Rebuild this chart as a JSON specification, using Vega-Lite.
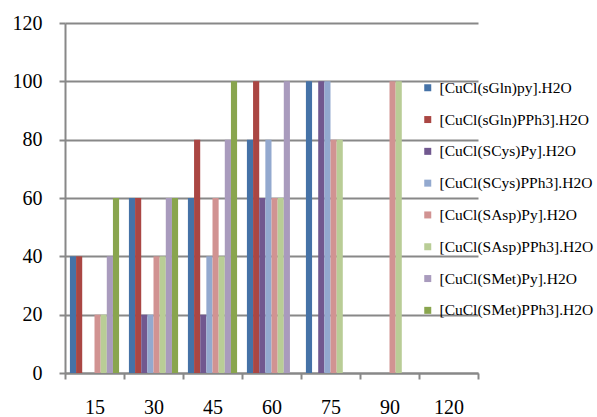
{
  "$schema": "https://vega.github.io/schema/vega-lite/v6.json",
  "width": 413,
  "height": 350,
  "autosize": "none",
  "padding": {"left": 65, "top": 23, "right": 119, "bottom": 44},
  "background": "white",
  "config": {"view": {"stroke": null}, "font": "Liberation Serif"},
  "data": {
    "values": [
      {"time": "15", "series": "[CuCl(sGln)py].H2O", "value": 40},
      {"time": "15", "series": "[CuCl(sGln)PPh3].H2O", "value": 40},
      {"time": "15", "series": "[CuCl(SAsp)Py].H2O", "value": 20},
      {"time": "15", "series": "[CuCl(SAsp)PPh3].H2O", "value": 20},
      {"time": "15", "series": "[CuCl(SMet)Py].H2O", "value": 40},
      {"time": "15", "series": "[CuCl(SMet)PPh3].H2O", "value": 60},
      {"time": "30", "series": "[CuCl(sGln)py].H2O", "value": 60},
      {"time": "30", "series": "[CuCl(sGln)PPh3].H2O", "value": 60},
      {"time": "30", "series": "[CuCl(SCys)Py].H2O", "value": 20},
      {"time": "30", "series": "[CuCl(SCys)PPh3].H2O", "value": 20},
      {"time": "30", "series": "[CuCl(SAsp)Py].H2O", "value": 40},
      {"time": "30", "series": "[CuCl(SAsp)PPh3].H2O", "value": 40},
      {"time": "30", "series": "[CuCl(SMet)Py].H2O", "value": 60},
      {"time": "30", "series": "[CuCl(SMet)PPh3].H2O", "value": 60},
      {"time": "45", "series": "[CuCl(sGln)py].H2O", "value": 60},
      {"time": "45", "series": "[CuCl(sGln)PPh3].H2O", "value": 80},
      {"time": "45", "series": "[CuCl(SCys)Py].H2O", "value": 20},
      {"time": "45", "series": "[CuCl(SCys)PPh3].H2O", "value": 40},
      {"time": "45", "series": "[CuCl(SAsp)Py].H2O", "value": 60},
      {"time": "45", "series": "[CuCl(SAsp)PPh3].H2O", "value": 40},
      {"time": "45", "series": "[CuCl(SMet)Py].H2O", "value": 80},
      {"time": "45", "series": "[CuCl(SMet)PPh3].H2O", "value": 100},
      {"time": "60", "series": "[CuCl(sGln)py].H2O", "value": 80},
      {"time": "60", "series": "[CuCl(sGln)PPh3].H2O", "value": 100},
      {"time": "60", "series": "[CuCl(SCys)Py].H2O", "value": 60},
      {"time": "60", "series": "[CuCl(SCys)PPh3].H2O", "value": 80},
      {"time": "60", "series": "[CuCl(SAsp)Py].H2O", "value": 60},
      {"time": "60", "series": "[CuCl(SAsp)PPh3].H2O", "value": 60},
      {"time": "60", "series": "[CuCl(SMet)Py].H2O", "value": 100},
      {"time": "75", "series": "[CuCl(sGln)py].H2O", "value": 100},
      {"time": "75", "series": "[CuCl(SCys)Py].H2O", "value": 100},
      {"time": "75", "series": "[CuCl(SCys)PPh3].H2O", "value": 100},
      {"time": "75", "series": "[CuCl(SAsp)Py].H2O", "value": 80},
      {"time": "75", "series": "[CuCl(SAsp)PPh3].H2O", "value": 80},
      {"time": "90", "series": "[CuCl(SAsp)Py].H2O", "value": 100},
      {"time": "90", "series": "[CuCl(SAsp)PPh3].H2O", "value": 100}
    ]
  },
  "mark": {"type": "bar"},
  "encoding": {
    "x": {
      "field": "time",
      "type": "ordinal",
      "scale": {"domain": ["15", "30", "45", "60", "75", "90", "120"], "paddingInner": 0, "paddingOuter": 0},
      "axis": {
        "title": null,
        "labelAngle": 0,
        "tickBand": "extent",
        "domainColor": "#888888",
        "domainWidth": 2,
        "tickColor": "#888888",
        "tickWidth": 2,
        "tickSize": 6,
        "labelFont": "Liberation Serif",
        "labelFontSize": 20,
        "labelColor": "black",
        "labelPadding": 18,
        "grid": false
      }
    },
    "xOffset": {
      "field": "series",
      "type": "nominal",
      "scale": {
        "domain": ["[CuCl(sGln)py].H2O", "[CuCl(sGln)PPh3].H2O", "[CuCl(SCys)Py].H2O", "[CuCl(SCys)PPh3].H2O", "[CuCl(SAsp)Py].H2O", "[CuCl(SAsp)PPh3].H2O", "[CuCl(SMet)Py].H2O", "[CuCl(SMet)PPh3].H2O"],
        "paddingInner": 0,
        "paddingOuter": 0.8
      }
    },
    "y": {
      "field": "value",
      "type": "quantitative",
      "scale": {"domain": [0, 120]},
      "axis": {
        "title": null,
        "values": [0, 20, 40, 60, 80, 100, 120],
        "gridColor": "#888888",
        "gridWidth": 2,
        "domainColor": "#888888",
        "domainWidth": 2,
        "tickColor": "#888888",
        "tickWidth": 2,
        "tickSize": 6,
        "labelFont": "Liberation Serif",
        "labelFontSize": 20,
        "labelColor": "black",
        "labelPadding": 17
      }
    },
    "color": {
      "field": "series",
      "type": "nominal",
      "scale": {
        "domain": ["[CuCl(sGln)py].H2O", "[CuCl(sGln)PPh3].H2O", "[CuCl(SCys)Py].H2O", "[CuCl(SCys)PPh3].H2O", "[CuCl(SAsp)Py].H2O", "[CuCl(SAsp)PPh3].H2O", "[CuCl(SMet)Py].H2O", "[CuCl(SMet)PPh3].H2O"],
        "range": ["#4572A7", "#AA4643", "#71588F", "#93A9CF", "#D19392", "#B9CD96", "#A99BBD", "#89A54E"]
      },
      "legend": {
        "title": null,
        "orient": "none",
        "legendX": 355,
        "legendY": 57,
        "padding": 0,
        "symbolType": "square",
        "symbolSize": 49,
        "symbolStrokeWidth": 0,
        "labelFont": "Liberation Serif",
        "labelFontSize": 15.5,
        "labelColor": "black",
        "labelLimit": 300,
        "labelOffset": 4,
        "rowPadding": 14.8
      }
    }
  }
}
